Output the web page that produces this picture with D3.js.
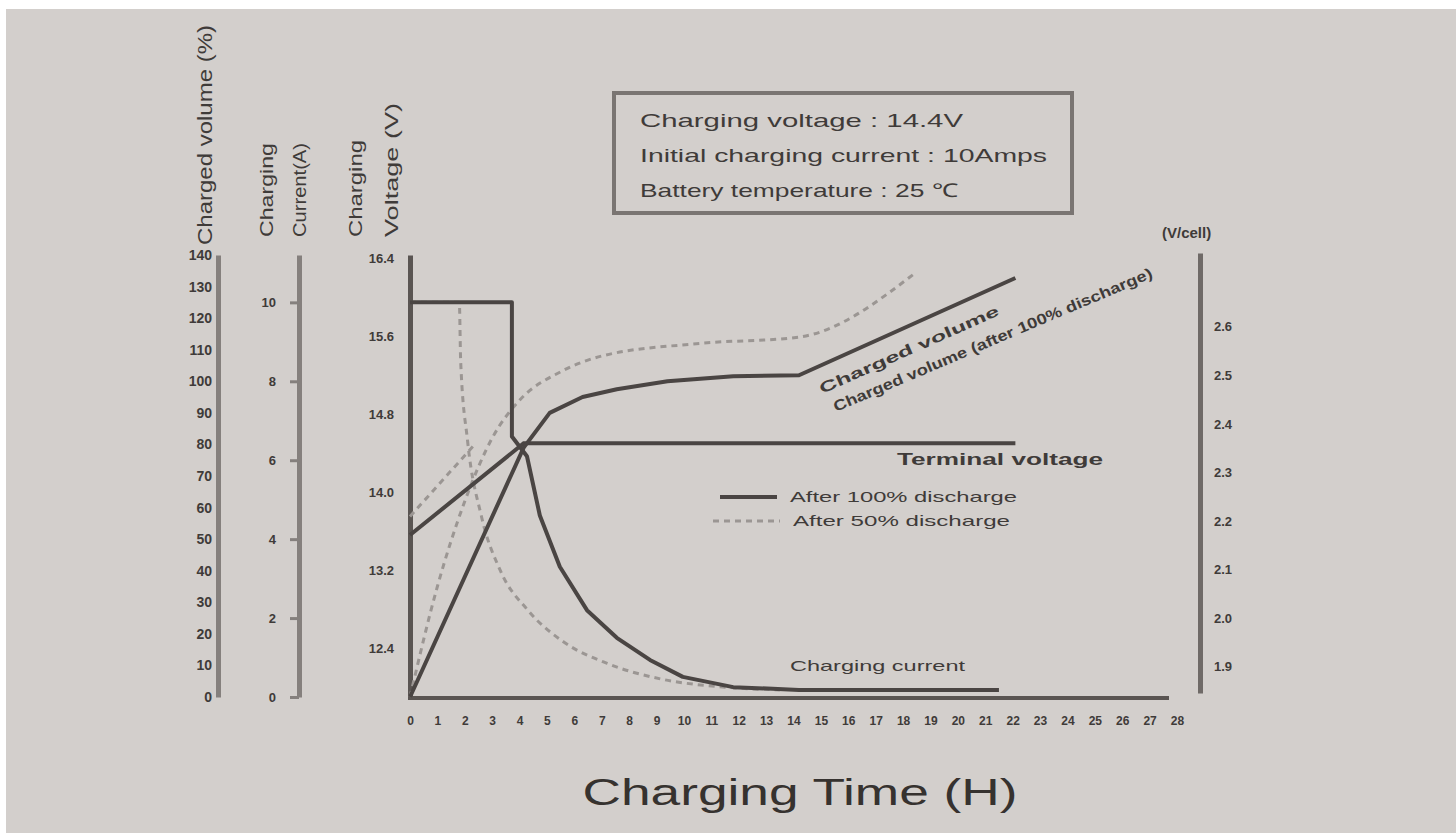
<!DOCTYPE html>
<html>
<head>
<meta charset="utf-8">
<script src="https://cdn.jsdelivr.net/npm/d3@7/dist/d3.min.js"></script>
<style>
  body { margin: 0; background: #fff; }
  text { font-family: "Liberation Sans", Arial, sans-serif; fill: #3f3b39; }
  .tick text { font-weight: bold; font-size: 12px; }
</style>
</head>
<body>
<div id="chart"></div>
<script>
// tick labels
var timeTicks = [0,1,2,3,4,5,6,7,8,9,10,11,12,13,14,15,16,17,18,19,20,21,22,23,24,25,26,27,28];
var volumeTicks = [0,10,20,30,40,50,60,70,80,90,100,110,120,130,140];
var currentTicks = [0,2,4,6,8,10];
var voltageTicks = [12.4,13.2,14.0,14.8,15.6,16.4];
var cellTicks = [1.9,2.0,2.1,2.2,2.3,2.4,2.5,2.6];

// after 100% discharge: [hours, value]
var current100 = [[0,10],[3.72,10],[3.72,6.6],[4.27,6.1],[4.74,4.6],[5.47,3.3],[6.46,2.2],[7.55,1.5],[8.76,0.94],[9.96,0.51],[11.8,0.25],[14.2,0.18],[21.5,0.18]];
var voltage100 = [[0,13.56],[4.15,14.5],[22.1,14.5]];
var volume100 = [[0,0],[4.15,79],[5.1,90],[6.3,95],[7.55,97.5],[9.4,100],[11.8,101.6],[14.2,101.9],[22.1,132.7]];

// after 50% discharge
var current50 = [[0,10],[1.8,10],[1.85,8.5],[2.1,6.5],[2.6,4.6],[3.3,3.2],[4.3,2.2],[5.6,1.4],[7.2,0.85],[9.2,0.45],[11.5,0.25],[13.5,0.18]];
var voltage50 = [[0,13.75],[2.4,14.5]];
var volume50 = [[0,0],[1,35],[2,62],[3,82],[4,94],[5.5,103],[7,108],[10.6,112],[14.2,114],[18.4,134]];

// box text
var infoLines = ["Charging voltage : 14.4V", "Initial charging current : 10Amps", "Battery temperature : 25 \u2103"];
var legendLabels = ["After 100% discharge", "After 50% discharge"];

var svgWidth = 1456;
var svgHeight = 833;
var ink = "#4a4543";
var soft = "#9b9693";

var svg = d3.select("#chart")
  .append("svg")
  .attr("width", svgWidth)
  .attr("height", svgHeight);

// background (white strips top/left like the scan)
svg.append("rect").attr("width", svgWidth).attr("height", svgHeight).attr("fill", "#fff");
svg.append("rect").attr("x", 6).attr("y", 9).attr("width", svgWidth).attr("height", svgHeight)
  .attr("fill", "#d3cfcc");

// scales
var x = d3.scaleLinear().domain([0, 28]).range([410, 1177]);
var yVol = d3.scaleLinear().domain([0, 140]).range([697, 255]);
var yCur = d3.scaleLinear().domain([0, 11.2]).range([697, 255]);
var yVolt = d3.scaleLinear().domain([11.9, 16.43]).range([697, 255]);
var yCell = d3.scaleLinear().domain([1.846, 2.752]).range([693, 253]);

function styleAxis(g, color, width, fontSize) {
  g.select(".domain").attr("stroke", color).attr("stroke-width", width);
  g.selectAll(".tick line").attr("stroke", color).attr("stroke-width", 3);
  g.selectAll(".tick text").attr("fill", "#3f3b39").style("font-size", fontSize + "px");
}

// left axes
var volAxis = svg.append("g")
  .attr("transform", "translate(218,0)")
  .call(d3.axisLeft(yVol).tickValues(volumeTicks).tickSize(0).tickSizeOuter(0).tickPadding(6));
styleAxis(volAxis, "#85807d", 5, 14);

var curAxis = svg.append("g")
  .attr("transform", "translate(299,0)")
  .call(d3.axisLeft(yCur).tickValues(currentTicks).tickSize(9).tickSizeOuter(0).tickPadding(14));
styleAxis(curAxis, "#85807d", 5, 13);

var voltAxis = svg.append("g")
  .attr("transform", "translate(410,0)")
  .call(d3.axisLeft(yVolt).tickValues(voltageTicks).tickSize(0).tickSizeOuter(0).tickPadding(16)
    .tickFormat(d3.format(".1f")));
styleAxis(voltAxis, "#5a5552", 5, 13);

// right axis
var cellAxis = svg.append("g")
  .attr("transform", "translate(1200,0)")
  .call(d3.axisRight(yCell).tickValues(cellTicks).tickSize(0).tickSizeOuter(0).tickPadding(14)
    .tickFormat(d3.format(".1f")));
styleAxis(cellAxis, "#6f6a67", 5, 13);

// bottom axis
var xAxis = svg.append("g")
  .attr("transform", "translate(0,698)")
  .call(d3.axisBottom(x).tickValues(timeTicks).tickSize(0).tickSizeOuter(0).tickPadding(18));
styleAxis(xAxis, "#5a5552", 4, 12);
xAxis.select(".domain").attr("d", "M" + (x(0) - 2) + ",0H" + (x(28) - 8));

// axis titles
function vTitle(tx, ty, str, size, len) {
  svg.append("text")
    .attr("transform", "translate(" + tx + "," + ty + ") rotate(-90)")
    .attr("font-size", size)
    .attr("textLength", len)
    .attr("lengthAdjust", "spacingAndGlyphs")
    .text(str);
}
vTitle(212, 245, "Charged volume (%)", 21, 220);
vTitle(273, 237, "Charging", 18, 94);
vTitle(306, 237, "Current(A)", 18, 94);
vTitle(362, 237, "Charging", 18, 97);
vTitle(398, 237, "Voltage (V)", 18, 134);

svg.append("text")
  .attr("x", 1162).attr("y", 238)
  .attr("font-size", 15).attr("font-weight", "bold")
  .text("(V/cell)");

svg.append("text")
  .attr("x", 800).attr("y", 805)
  .attr("text-anchor", "middle")
  .attr("font-size", 36)
  .attr("textLength", 435)
  .attr("lengthAdjust", "spacingAndGlyphs")
  .style("fill", "#36322f")
  .text("Charging Time (H)");

// info box
svg.append("rect")
  .attr("x", 614).attr("y", 93).attr("width", 458).attr("height", 120)
  .attr("fill", "none").attr("stroke", "#7a7572").attr("stroke-width", 4);
var infoLen = [323, 407, 318];
infoLines.forEach(function(t, i) {
  svg.append("text")
    .attr("x", 640).attr("y", 127 + i * 35)
    .attr("font-size", 19)
    .attr("textLength", infoLen[i])
    .attr("lengthAdjust", "spacingAndGlyphs")
    .text(t);
});

// curves
var line = function(yScale) {
  return d3.line().x(d => x(d[0])).y(d => yScale(d[1])).curve(d3.curveLinear);
};
var smooth = function(yScale) {
  return d3.line().x(d => x(d[0])).y(d => yScale(d[1])).curve(d3.curveMonotoneX);
};

// dashed (50%) first, underneath
svg.append("path").datum(current50)
  .attr("d", smooth(yCur)).attr("fill", "none")
  .attr("stroke", soft).attr("stroke-width", 3).attr("stroke-dasharray", "6,5");
svg.append("path").datum(voltage50)
  .attr("d", line(yVolt)).attr("fill", "none")
  .attr("stroke", soft).attr("stroke-width", 3).attr("stroke-dasharray", "6,5");
svg.append("path").datum(volume50)
  .attr("d", smooth(yVol)).attr("fill", "none")
  .attr("stroke", soft).attr("stroke-width", 3).attr("stroke-dasharray", "6,5");

// solid (100%)
svg.append("path").datum(current100)
  .attr("d", line(yCur)).attr("fill", "none")
  .attr("stroke", ink).attr("stroke-width", 4).attr("stroke-linejoin", "round");
svg.append("path").datum(voltage100)
  .attr("d", line(yVolt)).attr("fill", "none")
  .attr("stroke", ink).attr("stroke-width", 4);
svg.append("path").datum(volume100)
  .attr("d", line(yVol)).attr("fill", "none")
  .attr("stroke", ink).attr("stroke-width", 4).attr("stroke-linejoin", "round");

// curve labels
svg.append("text")
  .attr("x", 897).attr("y", 465)
  .attr("font-size", 17).attr("font-weight", "bold")
  .attr("textLength", 206).attr("lengthAdjust", "spacingAndGlyphs")
  .text("Terminal voltage");

svg.append("text")
  .attr("x", 790).attr("y", 671)
  .attr("font-size", 15)
  .attr("textLength", 175).attr("lengthAdjust", "spacingAndGlyphs")
  .text("Charging current");

function slanted(tx, ty, ang, str, len) {
  svg.append("text")
    .attr("transform", "translate(" + tx + "," + ty + ") rotate(" + ang + ")")
    .attr("font-size", 15).attr("font-weight", "bold")
    .attr("textLength", len).attr("lengthAdjust", "spacingAndGlyphs")
    .text(str);
}
slanted(822, 394, -24, "Charged volume", 195);
slanted(836, 412, -23, "Charged volume (after 100% discharge)", 345);

// legend
svg.append("line").attr("x1", 720).attr("x2", 777).attr("y1", 497).attr("y2", 497)
  .attr("stroke", ink).attr("stroke-width", 4);
svg.append("line").attr("x1", 713).attr("x2", 780).attr("y1", 521).attr("y2", 521)
  .attr("stroke", soft).attr("stroke-width", 3).attr("stroke-dasharray", "6,5");
svg.append("text").attr("x", 790).attr("y", 502).attr("font-size", 15)
  .attr("textLength", 227).attr("lengthAdjust", "spacingAndGlyphs").text(legendLabels[0]);
svg.append("text").attr("x", 793).attr("y", 526).attr("font-size", 15)
  .attr("textLength", 217).attr("lengthAdjust", "spacingAndGlyphs").text(legendLabels[1]);
</script>
</body>
</html>
